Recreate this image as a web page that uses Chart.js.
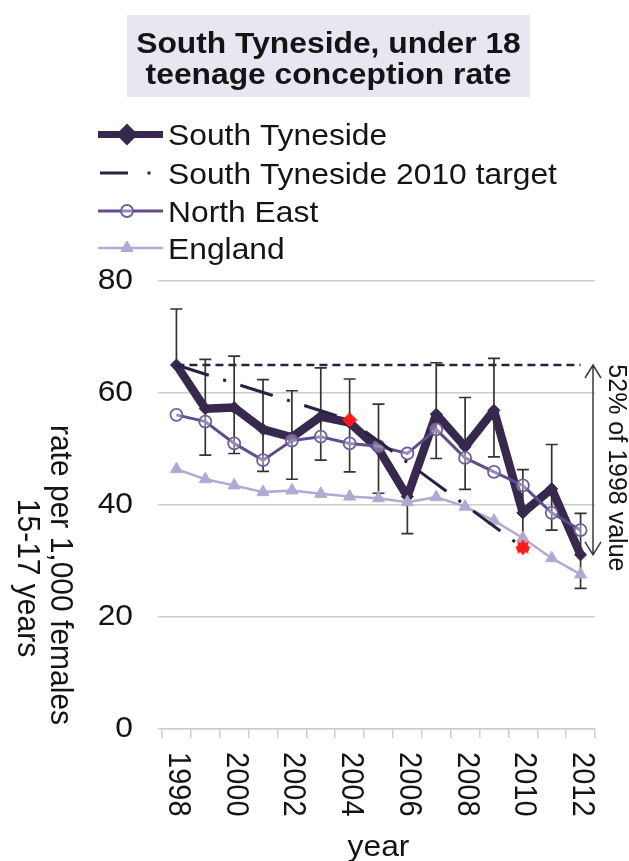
<!DOCTYPE html>
<html>
<head>
<meta charset="utf-8">
<script src="https://cdn.jsdelivr.net/npm/chart.js@4.4.0/dist/chart.umd.min.js"></script>
<style>
  html, body { margin: 0; padding: 0; background: #ffffff; }
  #wrap { width: 629px; height: 861px; position: relative; }
</style>
</head>
<body>
<div id="wrap"><canvas id="chart" width="629" height="861"></canvas></div>
<script>
// Under-18 conception rate per 1,000 females aged 15-17
const years = ['1998','1999','2000','2001','2002','2003','2004','2005','2006','2007','2008','2009','2010','2011','2012'];
const southTyneside = [65.0, 57.2, 57.4, 53.5, 52.1, 55.8, 54.7, 50.0, 41.5, 56.2, 50.4, 56.9, 38.6, 42.9, 31.1];
const stUpper = [75.0, 66.0, 66.6, 62.4, 60.4, 64.5, 62.5, 58.0, null, 65.4, 59.2, 66.2, 46.3, 50.8, 38.5];
const stLower = [null, 48.9, 49.2, 46.0, 44.6, 48.0, 45.9, 42.1, 34.9, 48.3, 42.8, 48.6, 32.0, 35.5, 25.1];
const northEast = [56.1, 54.9, 51.0, 48.0, 51.5, 52.2, 51.0, 50.5, 49.2, 53.5, 48.4, 45.9, 43.5, 38.6, 35.5];
const england = [46.4, 44.6, 43.5, 42.3, 42.6, 42.0, 41.5, 41.2, 40.5, 41.4, 39.7, 37.2, 34.1, 30.5, 27.6];
// 1998 baseline, 2004 interim target and 2010 target
const target2010 = [65.0, null, null, null, null, null, 55.2, null, null, null, null, null, 32.4, null, null];
const yTicks = [0, 20, 40, 60, 80];
const xTickLabels = ['1998','2000','2002','2004','2006','2008','2010','2012'];

const FONT = "'Liberation Sans', Arial, Helvetica, sans-serif";
const TEXT = '#141414';
const ST_COLOR = '#37284e';
const NE_COLOR = '#5f4d8c';
const ENG_COLOR = '#b3a8d1';
const TARGET_COLOR = '#2a2140';
const GRID = '#cdcdcd';
const TARGET_DASH = [34, 15, 3, 15];
const SX = 1.06;   // slightly wide lettering

function makeStar(r, color) {
  const c = document.createElement('canvas');
  c.width = c.height = 2 * r + 2;
  const g = c.getContext('2d');
  g.fillStyle = color;
  g.beginPath();
  for (let k = 0; k < 16; k++) {
    const a = k * Math.PI / 8 - Math.PI / 2;
    const rr = k % 2 ? r * 0.68 : r;
    g.lineTo(r + 1 + rr * Math.cos(a), r + 1 + rr * Math.sin(a));
  }
  g.closePath();
  g.fill();
  return c;
}
const redStar = makeStar(8, '#ff1a1a');

const targetRadius = target2010.map((v, i) => (i === 6 ? 7 : (i === 12 ? 8 : 0)));
const targetStyle = target2010.map((v, i) => (i === 12 ? redStar : 'rectRot'));

function text(ctx, str, x, y, font, align, baseline, rot) {
  ctx.save();
  ctx.translate(x, y);
  ctx.scale(SX, 1);
  if (rot) ctx.rotate(rot);
  ctx.font = font;
  ctx.textAlign = align;
  ctx.textBaseline = baseline;
  ctx.fillStyle = TEXT;
  ctx.fillText(str, 0, 0);
  ctx.restore();
}

const decor = {
  id: 'decor',
  beforeDatasetsDraw(chart) {
    const { ctx, scales: { x, y } } = chart;
    ctx.save();
    // dashed level of the 1998 rate
    const y98 = y.getPixelForValue(southTyneside[0]);
    ctx.strokeStyle = TARGET_COLOR;
    ctx.lineWidth = 2.5;
    ctx.setLineDash([8, 5]);
    ctx.beginPath();
    ctx.moveTo(x.getPixelForValue(0), y98);
    ctx.lineTo(x.getPixelForValue(years.length - 1), y98);
    ctx.stroke();
    ctx.setLineDash([]);
    // confidence intervals for South Tyneside
    ctx.strokeStyle = '#333333';
    ctx.lineWidth = 1.7;
    const cap = 6;
    years.forEach((yr, i) => {
      const px = x.getPixelForValue(i);
      const p = y.getPixelForValue(southTyneside[i]);
      [stUpper[i], stLower[i]].forEach(v => {
        if (v === null) return;
        const e = y.getPixelForValue(v);
        ctx.beginPath();
        ctx.moveTo(px, p); ctx.lineTo(px, e);
        ctx.moveTo(px - cap, e); ctx.lineTo(px + cap, e);
        ctx.stroke();
      });
    });
    ctx.restore();
  },
  afterDraw(chart) {
    const { ctx, chartArea: area, scales: { x, y } } = chart;
    ctx.save();

    // title box
    ctx.fillStyle = '#e8e6f1';
    ctx.fillRect(127, 15, 403, 82);
    const tFont = 'bold 30px ' + FONT;
    text(ctx, 'South Tyneside, under 18', 328.5, 52.5, tFont, 'center', 'alphabetic');
    text(ctx, 'teenage conception rate', 328.5, 84, tFont, 'center', 'alphabetic');

    // legend
    const legendRows = [
      { label: 'South Tyneside', cy: 134.5, base: 145 },
      { label: 'South Tyneside 2010 target', cy: 173, base: 184 },
      { label: 'North East', cy: 211, base: 222 },
      { label: 'England', cy: 248, base: 259 }
    ];
    const lx0 = 98, lx1 = 163, mx = 127;
    const H = Chart.helpers;
    ctx.strokeStyle = ST_COLOR; ctx.lineWidth = 7;
    ctx.beginPath(); ctx.moveTo(lx0, legendRows[0].cy); ctx.lineTo(lx1, legendRows[0].cy); ctx.stroke();
    ctx.fillStyle = ST_COLOR;
    H.drawPoint(ctx, { pointStyle: 'rectRot', radius: 6, borderWidth: 1 }, mx, legendRows[0].cy);
    ctx.strokeStyle = TARGET_COLOR; ctx.lineWidth = 3;
    ctx.beginPath(); ctx.moveTo(100, legendRows[1].cy); ctx.lineTo(128, legendRows[1].cy);
    ctx.moveTo(147.5, legendRows[1].cy); ctx.lineTo(150.5, legendRows[1].cy); ctx.stroke();
    ctx.strokeStyle = NE_COLOR; ctx.lineWidth = 3;
    ctx.beginPath(); ctx.moveTo(lx0, legendRows[2].cy); ctx.lineTo(lx1, legendRows[2].cy); ctx.stroke();
    ctx.fillStyle = 'rgba(255,255,255,0.35)'; ctx.strokeStyle = '#6e5e9d'; ctx.lineWidth = 1.8;
    H.drawPoint(ctx, { pointStyle: 'circle', radius: 6, borderWidth: 1.8 }, mx, legendRows[2].cy);
    ctx.strokeStyle = ENG_COLOR; ctx.lineWidth = 2.5;
    ctx.beginPath(); ctx.moveTo(lx0, legendRows[3].cy); ctx.lineTo(lx1, legendRows[3].cy); ctx.stroke();
    ctx.fillStyle = ENG_COLOR; ctx.strokeStyle = ENG_COLOR; ctx.lineWidth = 1;
    H.drawPoint(ctx, { pointStyle: 'triangle', radius: 7, borderWidth: 1 }, mx, legendRows[3].cy);
    legendRows.forEach(r => text(ctx, r.label, 168, r.base, '30px ' + FONT, 'left', 'alphabetic'));

    // y tick labels
    yTicks.forEach(v => text(ctx, String(v), 133, y.getPixelForValue(v), '30px ' + FONT, 'right', 'middle'));

    // x tick labels, turned to read downwards
    xTickLabels.forEach(lbl => {
      const px = x.getPixelForValue(years.indexOf(lbl));
      text(ctx, lbl, px + 1, area.bottom + 23, '29px ' + FONT, 'left', 'middle', Math.PI / 2);
    });

    // axis titles
    text(ctx, 'year', (area.left + area.right) / 2, 856, '30px ' + FONT, 'center', 'alphabetic');
    text(ctx, 'rate per 1,000 females', 60, 575, '30px ' + FONT, 'center', 'middle', Math.PI / 2);
    text(ctx, '15-17 years', 27, 578, '30px ' + FONT, 'center', 'middle', Math.PI / 2);

    // change between 1998 and 2012
    const ax = area.right - 2;
    const yTop = y.getPixelForValue(southTyneside[0]);
    const yBot = y.getPixelForValue(southTyneside[southTyneside.length - 1]);
    ctx.strokeStyle = '#3a3a3a';
    ctx.lineWidth = 1.5;
    ctx.beginPath();
    ctx.moveTo(ax, yTop); ctx.lineTo(ax, yBot);
    ctx.moveTo(ax - 8, yTop + 13); ctx.lineTo(ax, yTop); ctx.lineTo(ax + 8, yTop + 13);
    ctx.moveTo(ax - 8, yBot - 13); ctx.lineTo(ax, yBot); ctx.lineTo(ax + 8, yBot - 13);
    ctx.stroke();
    text(ctx, '52% of 1998 value', 616, (yTop + yBot) / 2 + 8, '25px ' + FONT, 'center', 'middle', Math.PI / 2);

    ctx.restore();
  }
};

new Chart(document.getElementById('chart'), {
  type: 'line',
  data: {
    labels: years,
    datasets: [
      {
        label: 'South Tyneside 2010 target',
        data: target2010,
        order: 0,
        spanGaps: true,
        borderColor: TARGET_COLOR,
        borderWidth: 3,
        borderDash: TARGET_DASH,
        pointRadius: targetRadius,
        pointHoverRadius: targetRadius,
        pointStyle: targetStyle,
        pointBackgroundColor: '#ff1a1a',
        pointBorderColor: '#ff1a1a',
        pointBorderWidth: 1
      },
      {
        label: 'England',
        data: england,
        order: 1,
        borderColor: ENG_COLOR,
        borderWidth: 2.5,
        pointStyle: 'triangle',
        pointRadius: 7,
        pointBackgroundColor: ENG_COLOR,
        pointBorderColor: ENG_COLOR,
        pointBorderWidth: 1
      },
      {
        label: 'North East',
        data: northEast,
        order: 2,
        borderColor: NE_COLOR,
        borderWidth: 3,
        pointStyle: 'circle',
        pointRadius: 6,
        pointBackgroundColor: 'rgba(255,255,255,0.35)',
        pointBorderColor: '#6e5e9d',
        pointBorderWidth: 1.8
      },
      {
        label: 'South Tyneside',
        data: southTyneside,
        order: 3,
        borderColor: ST_COLOR,
        borderWidth: 8.5,
        borderJoinStyle: 'round',
        pointStyle: 'rectRot',
        pointRadius: 6,
        pointBackgroundColor: ST_COLOR,
        pointBorderColor: ST_COLOR,
        pointBorderWidth: 1
      }
    ]
  },
  options: {
    responsive: false,
    devicePixelRatio: 1,
    animation: false,
    layout: { padding: { left: 0, top: 281, right: 34, bottom: 0 } },
    plugins: { legend: { display: false }, title: { display: false }, tooltip: { enabled: false } },
    elements: { line: { tension: 0 } },
    scales: {
      x: {
        type: 'category',
        offset: true,
        grid: { offset: true, drawOnChartArea: false, drawTicks: true, tickLength: 9, color: GRID, lineWidth: 1.5 },
        border: { display: true, color: GRID, width: 1.5 },
        ticks: { display: false },
        afterFit(s) { s.height = 132; }
      },
      y: {
        min: 0,
        max: 80,
        afterBuildTicks(s) { s.ticks = yTicks.map(v => ({ value: v })); },
        grid: { color: GRID, lineWidth: 1.5, drawTicks: true, tickLength: 4 },
        border: { display: false },
        ticks: { display: false },
        afterFit(s) { s.width = 162; }
      }
    }
  },
  plugins: [decor]
});
</script>
</body>
</html>
